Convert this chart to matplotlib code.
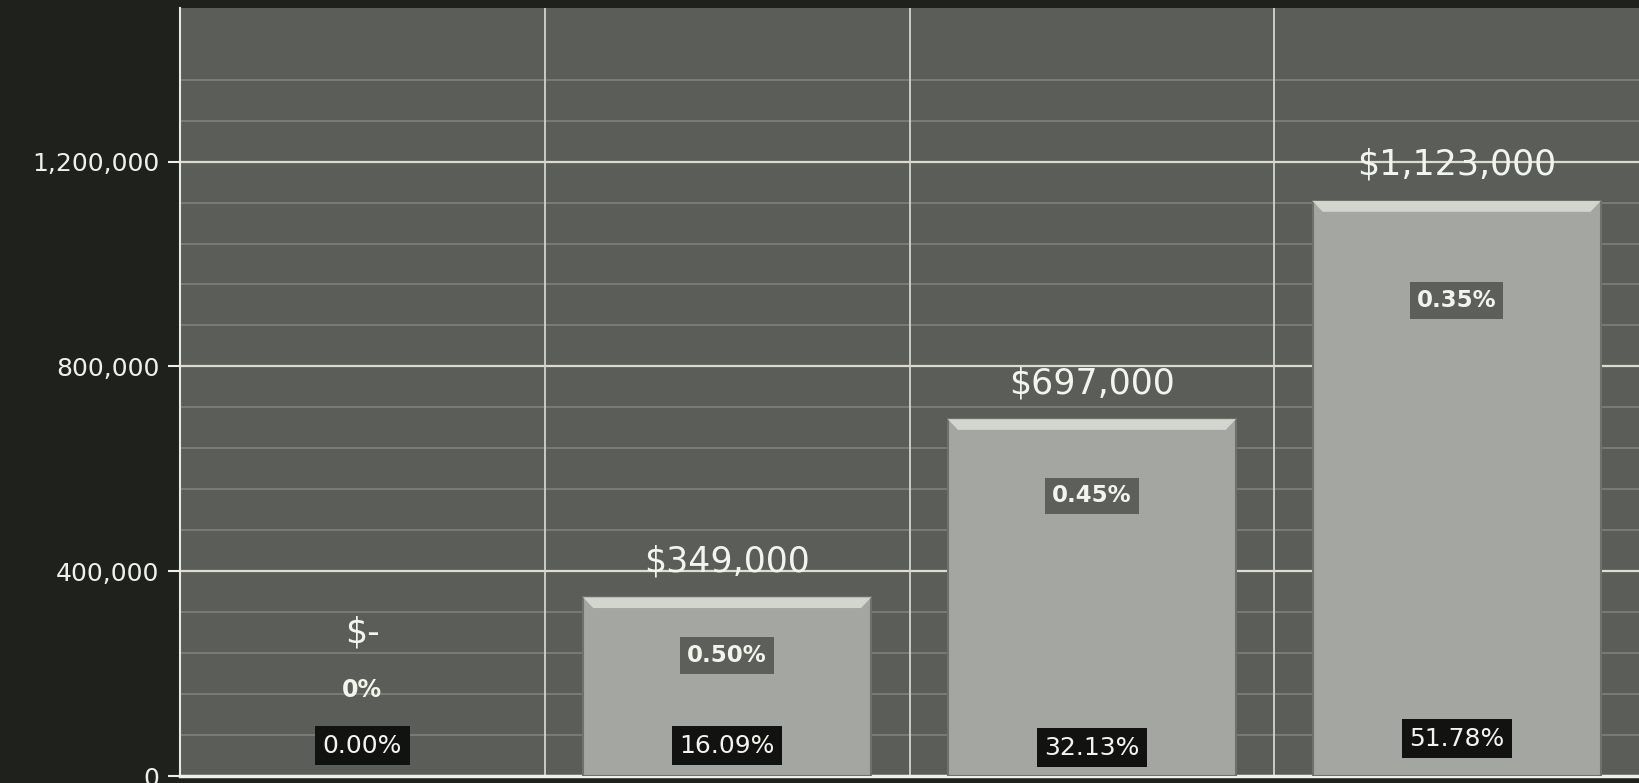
import numpy as np
import matplotlib
matplotlib.use("Agg")
import matplotlib.pyplot as plt
from matplotlib.patches import Polygon
from matplotlib.ticker import FuncFormatter, FixedLocator

# amounts per tier and the labels printed on them
amounts = [0, 349000, 697000, 1123000]
amount_labels = ["$-", "$349,000", "$697,000", "$1,123,000"]
rate_labels = ["0%", "0.50%", "0.45%", "0.35%"]
share_labels = ["0.00%", "16.09%", "32.13%", "51.78%"]
y_ticks = [0, 400000, 800000, 1200000]

# where the floating labels sit (data units)
rate_label_y = [167000, 235000, 547000, 929000]
share_label_y = [59000, 59000, 55000, 73000]
empty_label_y = 280000

BG = "#1f211d"
PLOT_BG = "#5b5e58"
BAR = "#a4a6a1"
BEVEL = "#d3d5cf"
TEXT = "#f4f4ee"

fig = plt.figure(figsize=(16.39, 7.83), dpi=100, facecolor=BG)
ax = fig.add_axes([180 / 1639, 7 / 783, 1 - 180 / 1639, 768 / 783])
ax.set_facecolor(PLOT_BG)
ax.set_xlim(-0.5, 3.5)
ax.set_ylim(0, 1.5e6)

# grid: faint lines every 80k, brighter ones on the labelled ticks
for v in np.arange(80000, 1400000, 80000):
    if v not in y_ticks:
        ax.axhline(v, color="#9a9c95", lw=1.1, alpha=0.6, zorder=1)
for v in y_ticks[1:]:
    ax.axhline(v, color="#dcdcd4", lw=1.6, zorder=1)
for xv in [0.5, 1.5, 2.5]:
    ax.axvline(xv, color="#d4d4cc", lw=1.3, zorder=1)

x = np.arange(len(amounts))
width = 0.79
edge_w = [1.5 if v > 0 else 0 for v in amounts]
bars = ax.bar(x, amounts, width=width, color=BAR, edgecolor="#6f716c",
              linewidth=edge_w, zorder=3)

# bevelled top edge on each bar
dx = 0.028
dy = 21000
for b in bars:
    h = b.get_height()
    if h <= 0:
        continue
    x0 = b.get_x()
    x1 = x0 + b.get_width()
    top = Polygon([(x0, h), (x1, h), (x1 - dx, h - dy), (x0 + dx, h - dy)],
                  closed=True, facecolor=BEVEL, edgecolor="none", zorder=4)
    ax.add_patch(top)

for i, v in enumerate(amounts):
    if v > 0:
        ax.annotate(amount_labels[i], (x[i], v), xytext=(0, 26),
                    textcoords="offset points", ha="center", va="center",
                    fontsize=25, color=TEXT, zorder=6)
        ax.text(x[i], rate_label_y[i], rate_labels[i], ha="center", va="center",
                fontsize=16.5, fontweight="bold", color=TEXT, zorder=6,
                bbox=dict(boxstyle="square,pad=0.3", fc="#5d5f5a", ec="none"))
    else:
        ax.text(x[i], empty_label_y, amount_labels[i], ha="center", va="center",
                fontsize=25, color=TEXT, zorder=6)
        ax.text(x[i], rate_label_y[i], rate_labels[i], ha="center", va="center",
                fontsize=17, fontweight="bold", color=TEXT, zorder=6)
    ax.text(x[i], share_label_y[i], share_labels[i], ha="center", va="center",
            fontsize=18, color=TEXT, zorder=6,
            bbox=dict(boxstyle="square,pad=0.3", fc="#121311", ec="none"))

ax.yaxis.set_major_locator(FixedLocator(y_ticks))
ax.yaxis.set_major_formatter(FuncFormatter(lambda v, p: f"{v:,.0f}"))
ax.tick_params(axis="y", colors="#f0f0ea", labelsize=18, length=9, width=1.5, pad=6)
ax.set_xticks([])

for s in ["top", "right"]:
    ax.spines[s].set_visible(False)
ax.spines["left"].set_color("#e8e8e0")
ax.spines["left"].set_linewidth(1.5)
ax.spines["bottom"].set_color("#f0f0ea")
ax.spines["bottom"].set_linewidth(2.5)

fig.savefig("out.png", dpi=100, facecolor=BG)
